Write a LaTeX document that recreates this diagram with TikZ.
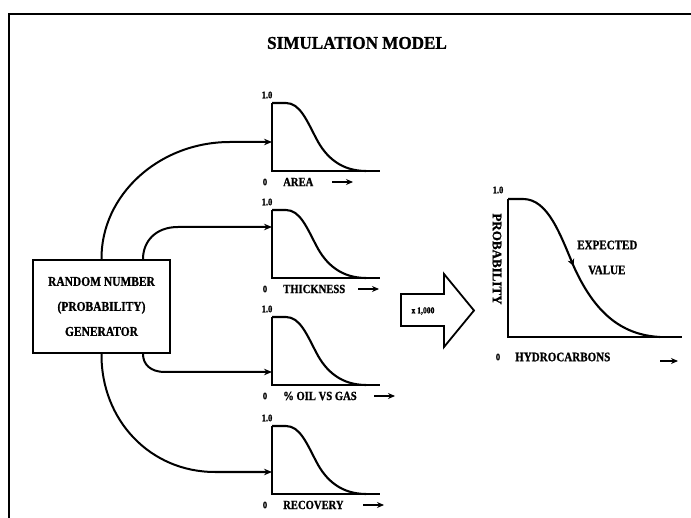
\documentclass[tikz,border=0pt]{standalone}
\usepackage{fontspec}
\setmainfont{Liberation Serif}[FakeStretch=0.85, BoldFeatures={FakeBold=1}]
\newfontfamily\titlefont{Liberation Serif}[FakeStretch=0.95, BoldFeatures={FakeBold=1}]
\newfontfamily\vertfont{Liberation Serif}[BoldFeatures={FakeBold=1}]
\usetikzlibrary{arrows.meta}
\tikzset{
  frameline/.style={line width=2.2pt},
  plotline/.style={line width=2.1pt},
  conn/.style={line width=2pt,-{Stealth[length=8pt,width=6.5pt]}},
  smallarrow/.style={line width=1.8pt,-{Stealth[length=7pt,width=6pt]}},
  lbl/.style={font=\bfseries\fontsize{12.5}{13}\selectfont, inner sep=0pt},
  biglbl/.style={font=\bfseries\fontsize{13}{14}\selectfont, inner sep=0pt},
  numlbl/.style={font=\bfseries\fontsize{10}{11}\selectfont, inner sep=0pt},
  boxtext/.style={font=\bfseries\fontsize{13.5}{25}\selectfont, align=center},
}
\newcommand\cdfplot[5]{%
  % #1 name, #2 top y, #3 arrow entry (local y), #4 label, #5 arrow start x (local)
  \begin{scope}[shift={(272,#2)}]
    \coordinate (#1-top) at (0,0);
    \coordinate (#1-o) at (0,68);
    \coordinate (#1-end) at (108,68);
    \coordinate (#1-in) at (0,#3);
    \draw[plotline] (#1-top) -- (#1-o) -- (#1-end);
    \draw[plotline] (#1-top) -- (14,0) .. controls (28,0) and (35,18) .. (44,35)
      .. controls (54,55) and (70,68) .. (94,68);
    \node[numlbl] (#1-one) at (-5,-8) {1.0};
    \node[numlbl] (#1-zero) at (-7,79) {0};
    \node[lbl, anchor=west] (#1-lab) at (11,79) {#4};
    \coordinate (#1-a1) at (#5,79);
    \coordinate (#1-a2) at ([xshift=21pt]#1-a1);
    \draw[smallarrow] (#1-a1) -- (#1-a2);
  \end{scope}}
\begin{document}
\begin{tikzpicture}[x=1pt,y=-1pt]
\useasboundingbox (0,0) rectangle (691,518);
% frame
\coordinate (fr-tl) at (9,14);
\coordinate (fr-tr) at (691,14);
\coordinate (fr-bl) at (9,518);
\draw[frameline] (fr-tr) -- (fr-tl) -- (fr-bl);
% title
\node[font=\titlefont\bfseries\fontsize{18}{19}\selectfont, inner sep=0pt] (title) at (357,43) {SIMULATION MODEL};
% generator box
\node[draw, line width=2pt, minimum width=137pt, minimum height=93pt, inner sep=0pt] (gen) at (101.5,306.5) {};
\node[boxtext] (gen-text) at (gen.center) {RANDOM NUMBER\\(PROBABILITY)\\GENERATOR};
% small plots
\cdfplot{area}{103}{39}{AREA}{60}
\cdfplot{thick}{210}{17}{THICKNESS}{86}
\cdfplot{oil}{317}{55}{\% OIL VS GAS}{102}
\cdfplot{rec}{426}{46}{RECOVERY}{91}
% connectors
\coordinate (gen-a) at ([xshift=0pt]gen.north);
\coordinate (gen-b) at ([xshift=41.5pt]gen.north);
\coordinate (gen-c) at ([xshift=41.5pt]gen.south);
\coordinate (gen-d) at ([xshift=0pt]gen.south);
\draw[conn] (gen-a) .. controls (101,195) and (159,142) .. (230,142) -- (area-in);
\draw[conn] (gen-b) .. controls (143,242) and (155,227) .. (178,227) -- (thick-in);
\draw[conn] (gen-c) .. controls (143,364) and (150,372) .. (165,372) -- (oil-in);
\draw[conn] (gen-d) .. controls (101,420) and (150,472) .. (215,472) -- (rec-in);
% big arrow
\draw[line width=1.8pt] (401,294) -- (444,294) -- (444,274) -- (474,310.5) -- (444,347) -- (444,326) -- (401,326) -- cycle;
\node[font=\bfseries\fontsize{9}{10}\selectfont, inner sep=0pt] (mult) at (423,311) {x 1,000};
% main plot
\begin{scope}[shift={(508,199)}]
  \coordinate (m-top) at (0,0);
  \coordinate (m-o) at (0,138);
  \coordinate (m-end) at (174,138);
  \draw[plotline] (m-top) -- (m-o) -- (m-end);
  \draw[plotline] (m-top) -- (15,0) .. controls (40,0) and (52,35) .. (66,68)
    .. controls (86,112) and (112,136) .. (152,138);
  \coordinate (ev1) at (61,56);
  \coordinate (ev2) at (65.5,67);
  \draw[line width=0.8pt,-{Stealth[length=7pt,width=7pt]}] (ev1) -- (ev2);
  \node[numlbl] (m-one) at (-10,-9) {1.0};
  \node[numlbl] (m-zero) at (-10,158) {0};
  \node[biglbl, anchor=west] (m-lab) at (7,158) {HYDROCARBONS};
  \coordinate (m-a1) at (152,162);
  \coordinate (m-a2) at (170,162);
  \draw[smallarrow] (m-a1) -- (m-a2);
  \node[font=\vertfont\bfseries\fontsize{13}{14}\selectfont, inner sep=0pt, rotate=-90] (m-prob) at (-11,60) {PROBABILITY};
  \node[biglbl, anchor=west] (m-exp) at (69,46) {EXPECTED};
  \node[biglbl, anchor=west] (m-val) at (80,71) {VALUE};
\end{scope}
\end{tikzpicture}
\end{document}
